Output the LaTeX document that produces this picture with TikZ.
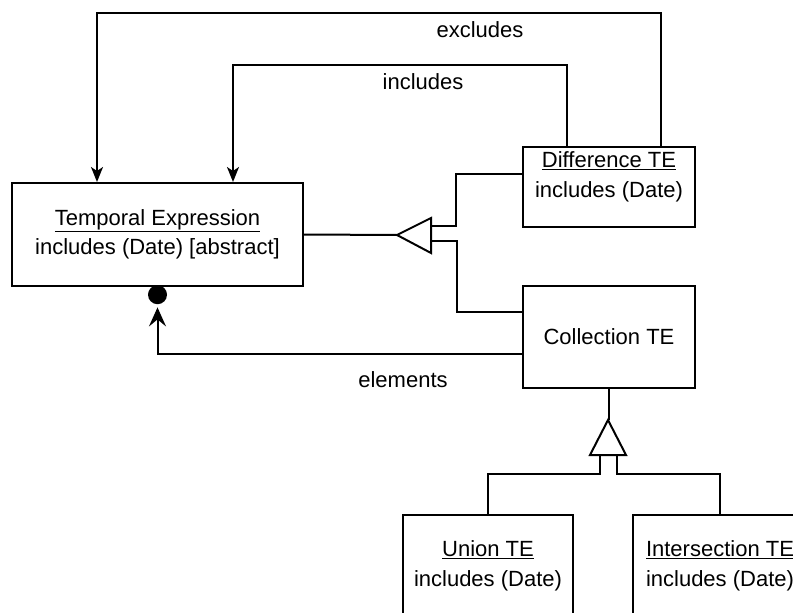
\documentclass[tikz,border=0pt]{standalone}
\usepackage{fontspec}
\setmainfont{Liberation Sans}
\usetikzlibrary{arrows.meta,calc}
\begin{document}
\begin{tikzpicture}[x=1pt,y=-1pt,
  umlbox/.style={draw, line width=2pt, inner sep=0pt, fill=white},
  txt/.style={font=\fontsize{22}{29.5}\selectfont, align=center, inner sep=0pt},
  conn/.style={line width=2pt},
  assoc/.style={conn, -{Stealth[length=15pt,width=12pt,inset=4pt]}},
  gentri/.style={conn, fill=white}]
\useasboundingbox (0,0) rectangle (793,613);
\fill[white] (0,0) rectangle (793,613);
\clip (0,0) rectangle (793,613);

% boxes
\node[umlbox, txt, minimum width=291pt, minimum height=103pt] (te) at (157.5,234.5)
  {\underline{Temporal Expression}\\includes (Date) [abstract]};
\node[umlbox, minimum width=172pt, minimum height=80pt] (diff) at (609,187) {};
\node[txt] (difft) at (609,177) {\underline{Difference TE}\\includes (Date)};
\node[umlbox, txt, minimum width=172pt, minimum height=102pt] (coll) at (609,337) {Collection TE};
\node[umlbox, minimum width=170pt, minimum height=110pt] (union) at (488,570) {};
\node[txt] (uniont) at (488,566) {\underline{Union TE}\\includes (Date)};
\node[umlbox, minimum width=174pt, minimum height=110pt] (inter) at (720,570) {};
\node[txt] (intert) at (720,566) {\underline{Intersection TE}\\includes (Date)};

% excludes / includes associations
\coordinate (excTop) at (400,13);
\coordinate (incTop) at (400,65);
\draw[assoc] ([xshift=52pt]diff.north) |- (excTop) -| ([xshift=-60.5pt]te.north);
\draw[assoc] ([xshift=-42pt]diff.north) |- (incTop) -| ([xshift=75.5pt]te.north);
\node[txt] (lexc) at (480,30) {excludes};
\node[txt] (lincl) at (423,82) {includes};

% generalization 1
\coordinate (g1) at (397,235);
\coordinate (g1a) at (431,226);
\coordinate (g1b) at (431,241);
\draw[conn] (te.east) -- (g1);
\draw[gentri] (g1) -- ++(34,-17) -- ++(0,35) -- cycle;
\draw[conn] (g1a) -- ++(25,0) |- ([yshift=13pt]diff.west);
\draw[conn] (g1b) -- ++(26,0) |- ([yshift=25pt]coll.west);

% elements aggregation
\node[circle, fill=black, inner sep=0pt, minimum size=19pt, anchor=north] (dot) at ([yshift=2pt]te.south) {};
\draw[conn, shorten >=3pt, -{Stealth[length=19pt,width=17pt,inset=7pt]}] ([yshift=-17pt]coll.west) -| (dot.south);
\node[txt] (lelem) at (403,380) {elements};

% generalization 2
\coordinate (g2) at (608,420);
\coordinate (g2a) at (600,455);
\coordinate (g2b) at (617,455);
\draw[conn] (coll.south) -- (coll.south |- g2);
\draw[gentri] (g2) -- ++(-18,35) -- ++(36,0) -- cycle;
\draw[conn] (g2a) -- ++(0,19) -| (union.north);
\draw[conn] (g2b) -- ++(0,19) -| (inter.north);
\end{tikzpicture}
\end{document}
